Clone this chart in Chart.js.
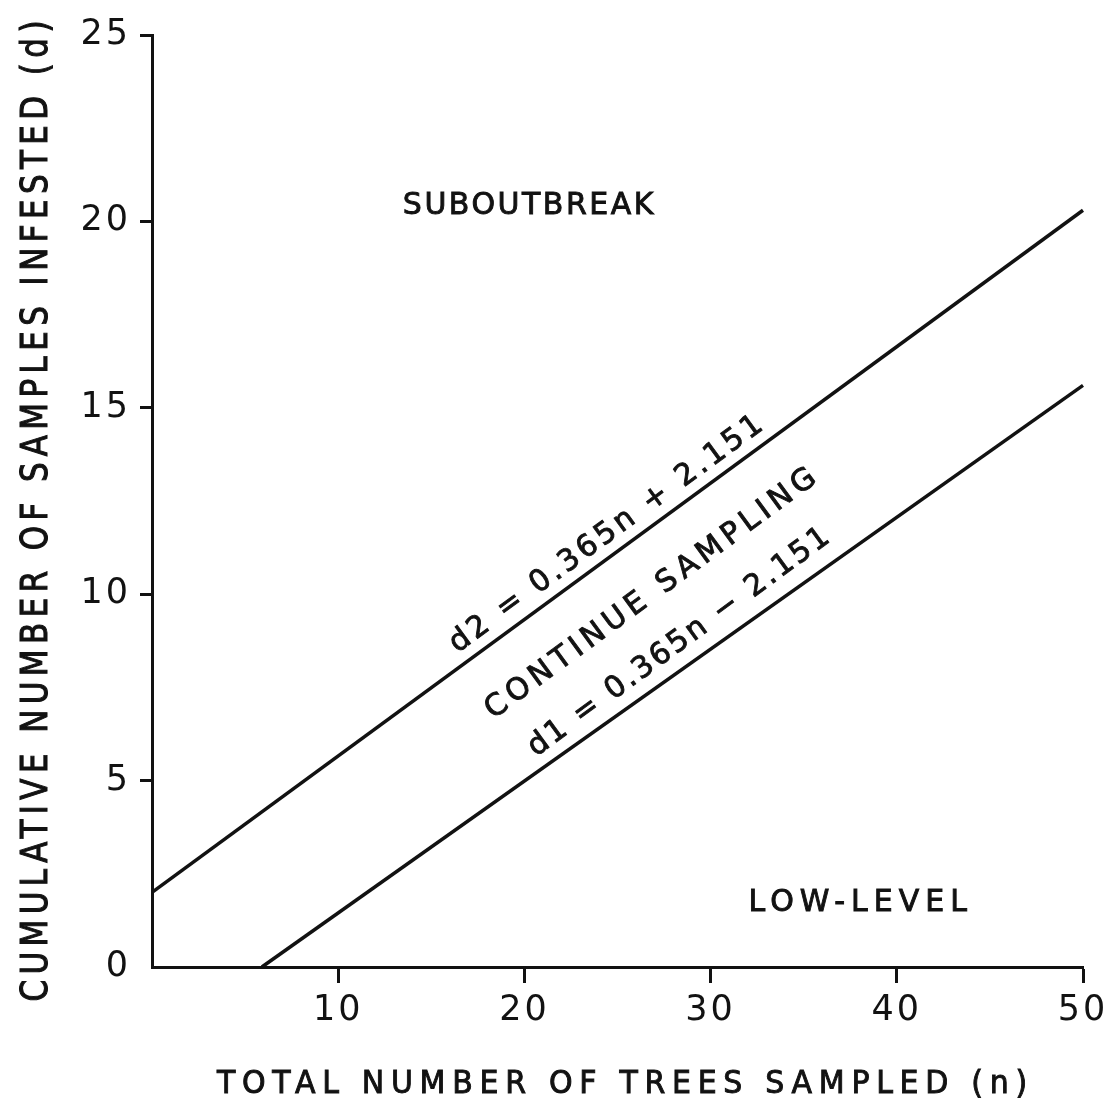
<!DOCTYPE html>
<html>
<head>
<meta charset="utf-8">
<script src="https://cdn.jsdelivr.net/npm/chart.js@4"></script>
<style>
  html, body { margin: 0; padding: 0; background: #fff; }
  #wrap { width: 1117px; height: 1110px; }
</style>
</head>
<body>
<div id="wrap"><canvas id="myChart" width="1117" height="1110"></canvas></div>
<script>
// values
const upperN = [0, 50];
const upperD = [2.0, 20.3];
const lowerN = [5.9, 50];
const lowerD = [0, 15.6];
const xTicks = [10, 20, 30, 40, 50];
const yTicks = [0, 5, 10, 15, 20, 25];

const xTitle = 'TOTAL NUMBER OF TREES SAMPLED (n)';
const yTitle = 'CUMULATIVE NUMBER OF SAMPLES INFESTED (d)';
const upperLabel = 'd2 = 0.365n + 2.151';
const middleLabel = 'CONTINUE SAMPLING';
const lowerLabel = 'd1 = 0.365n \u2212 2.151';

var ink = '#121212';
var fam = '"DejaVu Sans", sans-serif';

function pts(xs, ys) {
  var out = [];
  for (var i = 0; i < xs.length; i++) out.push({x: xs[i], y: ys[i]});
  return out;
}

// draws the region names, line equations and axis titles
var textPlugin = {
  id: 'texts',
  beforeDraw: function(chart) {
    chart.ctx.letterSpacing = '3px';
  },
  afterDraw: function(chart) {
    var ctx = chart.ctx;
    var x = chart.scales.x, y = chart.scales.y;
    var ang = Math.atan2(y.getPixelForValue(upperD[1]) - y.getPixelForValue(upperD[0]),
                         x.getPixelForValue(upperN[1]) - x.getPixelForValue(upperN[0]));

    function put(str, px, py, size, spacing, rot, tall) {
      ctx.save();
      ctx.fillStyle = ink;
      ctx.strokeStyle = ink;
      ctx.lineWidth = 0.9;
      ctx.font = size + 'px ' + fam;
      ctx.letterSpacing = spacing + 'px';
      ctx.textAlign = 'center';
      ctx.textBaseline = 'middle';
      ctx.translate(px, py);
      ctx.rotate(rot || 0);
      ctx.scale(1, tall || 1);
      ctx.fillText(str, spacing / 2, 0);
      ctx.strokeText(str, spacing / 2, 0);
      ctx.restore();
    }
    function putAt(str, n, d, size, spacing, rot) {
      put(str, x.getPixelForValue(n), y.getPixelForValue(d), size, spacing, rot, 1);
    }

    putAt('SUBOUTBREAK', 20.2, 20.4, 30, 2.5, 0);
    putAt('LOW-LEVEL', 37.9, 1.7, 30, 6, 0);
    putAt(upperLabel, 24.4, 11.6, 30, 3.5, ang);
    putAt(middleLabel, 26.8, 10.0, 30, 5, ang);
    putAt(lowerLabel, 28.3, 8.7, 30, 2.7, ang);

    // axis titles
    put(xTitle, 622, 1085, 30, 6.7, 0, 1.05);
    put(yTitle, 38, 511, 31, 5.4, -Math.PI / 2, 1.18);
  }
};

var ctx = document.getElementById('myChart').getContext('2d');
var myChart = new Chart(ctx, {
  type: 'scatter',
  data: {
    datasets: [{
      label: 'd2',
      data: pts(upperN, upperD),
      showLine: true,
      borderColor: ink,
      borderWidth: 3.5,
      pointRadius: 0,
      clip: false
    }, {
      label: 'd1',
      data: pts(lowerN, lowerD),
      showLine: true,
      borderColor: ink,
      borderWidth: 3.5,
      pointRadius: 0,
      clip: false
    }]
  },
  options: {
    responsive: false,
    animation: false,
    layout: { padding: { top: 35, right: 34, left: 0, bottom: 0 } },
    plugins: { legend: { display: false }, tooltip: { enabled: false } },
    scales: {
      x: {
        type: 'linear',
        min: 0,
        max: 50,
        afterBuildTicks: function(s) { s.ticks = xTicks.map(function(v) { return {value: v}; }); },
        afterFit: function(s) { s.height = 143; },
        border: { display: true, color: ink, width: 3 },
        grid: {
          drawOnChartArea: false,
          drawTicks: true,
          tickLength: 16,
          tickWidth: 3,
          tickColor: ink
        },
        ticks: {
          color: ink,
          font: { family: fam, size: 35 },
          padding: 7,
          maxRotation: 0
        }
      },
      y: {
        type: 'linear',
        min: 0,
        max: 25,
        afterBuildTicks: function(s) { s.ticks = yTicks.map(function(v) { return {value: v}; }); },
        afterFit: function(s) { s.width = 152; },
        border: { display: true, color: ink, width: 3 },
        grid: {
          drawOnChartArea: false,
          drawTicks: true,
          tickLength: 12,
          tickWidth: 3,
          tickColor: function(c) { return c.tick && c.tick.value === 0 ? 'rgba(0,0,0,0)' : ink; }
        },
        ticks: {
          color: ink,
          font: { family: fam, size: 35 },
          padding: 9
        }
      }
    }
  },
  plugins: [textPlugin]
});
</script>
</body>
</html>
